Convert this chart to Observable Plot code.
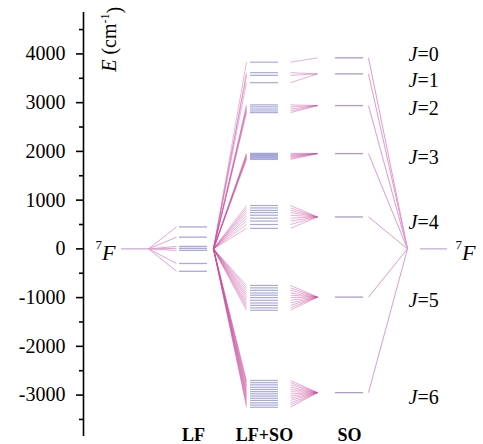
<!DOCTYPE html>
<html>
<head>
<meta charset="utf-8">
<script src="https://cdn.jsdelivr.net/npm/d3@7"></script>
<script src="https://cdn.jsdelivr.net/npm/@observablehq/plot@0.6"></script>
<style>
  html, body { margin: 0; padding: 0; background: #fff; }
  #chart { width: 483px; height: 444px; }
</style>
</head>
<body>
<div id="chart"></div>
<script>
// ---------- data (cm^-1) ----------
const freeIon = [0];                                   // 7F barycentre
const lfLevels = [450, 240, 50, 10, -30, -300, -460];   // ligand-field split 7F
const soLevels = [3920, 3590, 2940, 1955, 655, -990, -2950]; // J = 0..6
const jValues = [0, 1, 2, 3, 4, 5, 6];
const lfsoJ0 = [3830];
const lfsoJ1 = [3615, 3560, 3410];
const lfsoJ2 = [2955, 2915, 2870, 2830, 2795];
const lfsoJ3 = [1960, 1940, 1920, 1900, 1880, 1860, 1835];
const lfsoJ4 = [890, 840, 790, 745, 690, 630, 570, 500, 420];
const lfsoJ5 = [-750, -800, -850, -905, -950, -1000, -1055, -1110, -1160, -1210, -1260];
const lfsoJ6 = [-2700, -2745, -2790, -2840, -2885, -2930, -2975, -3020, -3065, -3110, -3160, -3205, -3250];
const jLabels = ["J=0", "J=1", "J=2", "J=3", "J=4", "J=5", "J=6"];
const stageLabels = ["LF", "LF+SO", "SO"];
const termLabel = "7F";
const yTicks = [-3000, -2000, -1000, 0, 1000, 2000, 3000, 4000];
const yMinorTicks = [-3500, -2500, -1500, -500, 500, 1500, 2500, 3500, 4500];
const yLabel = "E (cm-1)";

// ---------- layout (x in diagram units) ----------
const X = {
  freeL: [38, 65], fan1: [65, 93], lf: [96, 124], fan2: [130, 163],
  lfso: [167, 195], conv: [207, 234], so: [252, 280], fan4: [285, 324],
  freeR: [337, 364]
};
const jLabelE = [3990, 3460, 2880, 1875, 545, -1060, -3060];
const stageX = [110, 181, 266];

const lfsoGroups = [lfsoJ0, lfsoJ1, lfsoJ2, lfsoJ3, lfsoJ4, lfsoJ5, lfsoJ6];
const lfso = lfsoGroups.flatMap((g, j) => g.map(e => ({j, e, so: soLevels[j]})));

const levelCol = "#8585cc";
const lfCol = "#9393d4";
const soCol = "#ad98d6";
const fanCol = "#c9509f";
const lightCol = "#e09ad0";
const serif = "'Liberation Serif', 'Times New Roman', serif";

const plot = Plot.plot({
  width: 483, height: 444,
  marginLeft: 83, marginRight: 0, marginTop: 12, marginBottom: 8,
  style: {fontFamily: serif, background: "#fff", color: "#000"},
  x: {domain: [0, 400], axis: null},
  y: {domain: [-3850, 4850], axis: null},
  marks: [
    // free-ion levels
    Plot.ruleY(freeIon, {y: d => d, x1: X.freeL[0], x2: X.freeL[1], stroke: "#c8a2d6", strokeWidth: 1.2}),
    Plot.ruleY(freeIon, {y: d => d, x1: X.freeR[0], x2: X.freeR[1], stroke: "#c8a2d6", strokeWidth: 1.2}),
    // fan 1: free ion -> LF
    Plot.link(lfLevels, {x1: X.fan1[0], y1: 0, x2: X.fan1[1], y2: d => d, stroke: lightCol, strokeWidth: 1, strokeOpacity: 0.9}),
    // LF levels
    Plot.ruleY(lfLevels, {y: d => d, x1: X.lf[0], x2: X.lf[1], stroke: lfCol, strokeWidth: 1.3, strokeOpacity: 0.8}),
    // fan 2: LF -> LF+SO
    Plot.link(lfso, {x1: X.fan2[0], y1: 0, x2: X.fan2[1], y2: "e", stroke: fanCol, strokeWidth: 1, strokeOpacity: 0.42}),
    // LF+SO levels
    Plot.ruleY(lfso, {y: "e", x1: X.lfso[0], x2: X.lfso[1], stroke: levelCol, strokeWidth: 1.2, strokeOpacity: 0.7}),
    // converging lines LF+SO -> SO
    Plot.link(lfso, {x1: X.conv[0], y1: "e", x2: X.conv[1], y2: "so", stroke: fanCol, strokeWidth: 1, strokeOpacity: 0.45}),
    // SO levels
    Plot.ruleY(soLevels, {y: d => d, x1: X.so[0], x2: X.so[1], stroke: soCol, strokeWidth: 1.3}),
    // fan 4: SO -> free ion
    Plot.link(soLevels, {x1: X.fan4[0], y1: d => d, x2: X.fan4[1], y2: 0, stroke: lightCol, strokeWidth: 1}),
    // y axis
    Plot.ruleX([0], {stroke: "#000", strokeWidth: 1.6}),
    Plot.axisY(yTicks, {anchor: "left", tickSize: 7, tickPadding: 11, strokeWidth: 1.6,
      tickFormat: d => String(d), fontSize: 20, label: null, fill: "#000"}),
    Plot.axisY(yMinorTicks, {anchor: "left", tickSize: 4, strokeWidth: 1.6, tickFormat: () => "", label: null}),
    Plot.text([yLabel], {x: 26, y: 4300, rotate: -90, text: d => d, fontSize: 20, fill: "#000"}),
    // term labels
    Plot.text([termLabel], {x: 12, y: 0, text: d => d, textAnchor: "start", fontSize: 22, fill: "#000"}),
    Plot.text([termLabel], {x: 372, y: 0, text: d => d, textAnchor: "start", fontSize: 22, fill: "#000"}),
    // J labels
    Plot.text(jLabels, {x: 325, y: (d, i) => jLabelE[i], text: d => d, textAnchor: "start", fontSize: 20, fill: "#000"}),
    // stage labels
    Plot.text(stageLabels, {x: (d, i) => stageX[i], y: -3850, text: d => d, fontSize: 18, fontWeight: "bold", fill: "#000", dy: -1})
  ]
});

// rich text: italic symbols and superscripts
d3.select(plot).selectAll("text").each(function () {
  const t = this.textContent;
  const el = d3.select(this);
  if (/^J=\d$/.test(t)) {
    el.text("");
    el.append("tspan").attr("font-style", "italic").text("J");
    el.append("tspan").text(t.slice(1));
  } else if (t === termLabel) {
    el.text("");
    el.append("tspan").attr("font-size", 13).attr("dy", "-0.5em").text("7");
    el.append("tspan").attr("font-style", "italic").attr("dy", "0.5em").text("F");
  } else if (t === yLabel) {
    el.text("");
    el.append("tspan").attr("font-style", "italic").text("E");
    el.append("tspan").text(" (cm");
    el.append("tspan").attr("font-size", 12).attr("dy", "-0.6em").text("-1");
    el.append("tspan").attr("dy", "0.6em").text(")");
  }
});

document.getElementById("chart").appendChild(plot);
</script>
</body>
</html>
